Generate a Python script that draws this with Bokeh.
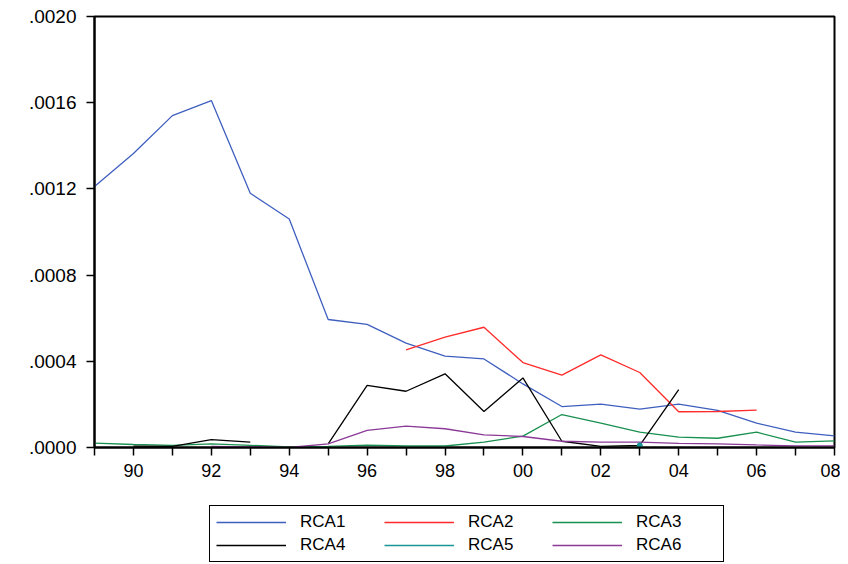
import numpy as np
from bokeh.plotting import figure
from bokeh.layouts import column
from bokeh.models import (ColumnDataSource, Legend, LegendItem, FixedTicker, Range1d)
from bokeh.embed import file_html
from bokeh.resources import INLINE

nan = float("nan")
years = list(range(1989, 2009))

rca1 = [0.001211, 0.001364, 0.001540, 0.001610, 0.001180, 0.001060, 0.000594, 0.000571,
        0.000484, 0.000424, 0.000411, 0.000295, 0.000190, 0.000201, 0.000178, 0.000201,
        0.000172, 0.000113, 0.000071, 0.000054]
rca2 = [nan, nan, nan, nan, nan, nan, nan, nan,
        0.000453, 0.000512, 0.000558, 0.000394, 0.000336, 0.000430, 0.000348, 0.000166,
        0.000167, 0.000173, nan, nan]
rca3 = [0.000020, 0.000014, 0.000010, 0.000017, 0.000010, 0.000003, 0.000005, 0.000011,
        0.000007, 0.000007, 0.000025, 0.000053, 0.000153, 0.000113, 0.000071, 0.000048,
        0.000043, 0.000071, 0.000025, 0.000031]
rca4 = [nan, 0.000006, 0.000005, 0.000037, 0.000025, nan, 0.000017, 0.000288,
        0.000261, 0.000342, 0.000167, 0.000323, 0.000029, 0.000005, 0.000010, 0.000268,
        nan, nan, nan, nan]
rca5 = [nan, nan, nan, nan, nan, nan, nan, nan,
        nan, nan, nan, nan, nan, nan, 0.000010, nan,
        nan, nan, nan, nan]
rca6 = [nan, nan, nan, 0.000005, 0.000003, 0.000000, 0.000017, 0.000079,
        0.000099, 0.000087, 0.000059, 0.000051, 0.000029, 0.000025, 0.000025, 0.000019,
        0.000017, 0.000012, 0.000008, 0.000008]

series_names = ["RCA1", "RCA2", "RCA3", "RCA4", "RCA5", "RCA6"]
series_values = [rca1, rca2, rca3, rca4, rca5, rca6]
colors = ["#3F5FBF", "#FF2A2A", "#18904F", "#000000", "#1A9696", "#8B3A98"]

x_ticks = years
x_tick_labels = {1990: "90", 1992: "92", 1994: "94", 1996: "96", 1998: "98",
                 2000: "00", 2002: "02", 2004: "04", 2006: "06", 2008: "08"}
y_ticks = [0.0, 0.0004, 0.0008, 0.0012, 0.0016, 0.0020]
y_tick_labels = [".0000", ".0004", ".0008", ".0012", ".0016", ".0020"]

FONT = "Liberation Sans"
LW = 1.3

p = figure(width=840, height=500, output_backend="svg", toolbar_location=None,
           x_range=Range1d(1989, 2008), y_range=Range1d(0, 0.0020),
           min_border_left=94, min_border_right=6, min_border_top=16, min_border_bottom=53)
p.grid.visible = False
p.outline_line_color = "black"
p.outline_line_width = 2
p.background_fill_color = "white"
p.border_fill_color = "white"

src = ColumnDataSource(dict(x=years, **{n: v for n, v in zip(series_names, series_values)}))
for name, col in zip(series_names, colors):
    p.line("x", name, source=src, line_color=col, line_width=LW)
# isolated single observation of RCA5 drawn as a dot
p.scatter("x", "RCA5", source=src, size=5, color=colors[4])

xa = p.xaxis[0]
xa.ticker = FixedTicker(ticks=x_ticks)
xa.major_label_overrides = {y: x_tick_labels.get(y, "") for y in x_ticks}
xa.major_tick_in = 0
xa.major_tick_out = 8
xa.minor_tick_line_color = None
xa.axis_line_width = 2
xa.major_tick_line_width = 1.5
xa.major_label_standoff = 8
xa.major_label_text_font = FONT
xa.major_label_text_font_size = "18px"
xa.major_label_text_color = "black"

ya = p.yaxis[0]
ya.ticker = FixedTicker(ticks=y_ticks)
ya.major_label_overrides = {t: l for t, l in zip(y_ticks, y_tick_labels)}
ya.major_tick_in = 0
ya.major_tick_out = 8
ya.minor_tick_line_color = None
ya.axis_line_width = 2
ya.major_tick_line_width = 1.5
ya.major_label_standoff = 10
ya.major_label_text_font = FONT
ya.major_label_text_font_size = "19px"
ya.major_label_text_color = "black"

# legend in its own strip below the chart (its lines lie outside the strip's ranges)
lf = figure(width=840, height=64, output_backend="svg", toolbar_location=None,
            x_range=Range1d(0, 1), y_range=Range1d(0, 1),
            min_border_left=94, min_border_right=6, min_border_top=0, min_border_bottom=0)
lf.axis.visible = False
lf.grid.visible = False
lf.outline_line_color = None
lf.background_fill_color = "white"
lf.border_fill_color = "white"
lrend = {}
for name, col in zip(series_names, colors):
    lrend[name] = lf.line("x", name, source=src, line_color=col, line_width=LW)

# column-major order so rows read RCA1 RCA2 RCA3 / RCA4 RCA5 RCA6
legend_order = ["RCA1", "RCA4", "RCA2", "RCA5", "RCA3", "RCA6"]
items = [LegendItem(label=n, renderers=[lrend[n]]) for n in legend_order]
legend = Legend(items=items, ncols=3, location=(115, 2),
                border_line_color="black", border_line_width=1.5, border_line_alpha=1.0,
                padding=6, spacing=3, margin=0,
                glyph_width=70, glyph_height=20, label_height=20,
                label_standoff=14, label_width=81,
                label_text_font=FONT, label_text_font_size="17px",
                label_text_color="black", background_fill_alpha=0)
lf.add_layout(legend, "center")

layout = column(p, lf, spacing=0)
open("out.html", "w").write(file_html(layout, INLINE))
